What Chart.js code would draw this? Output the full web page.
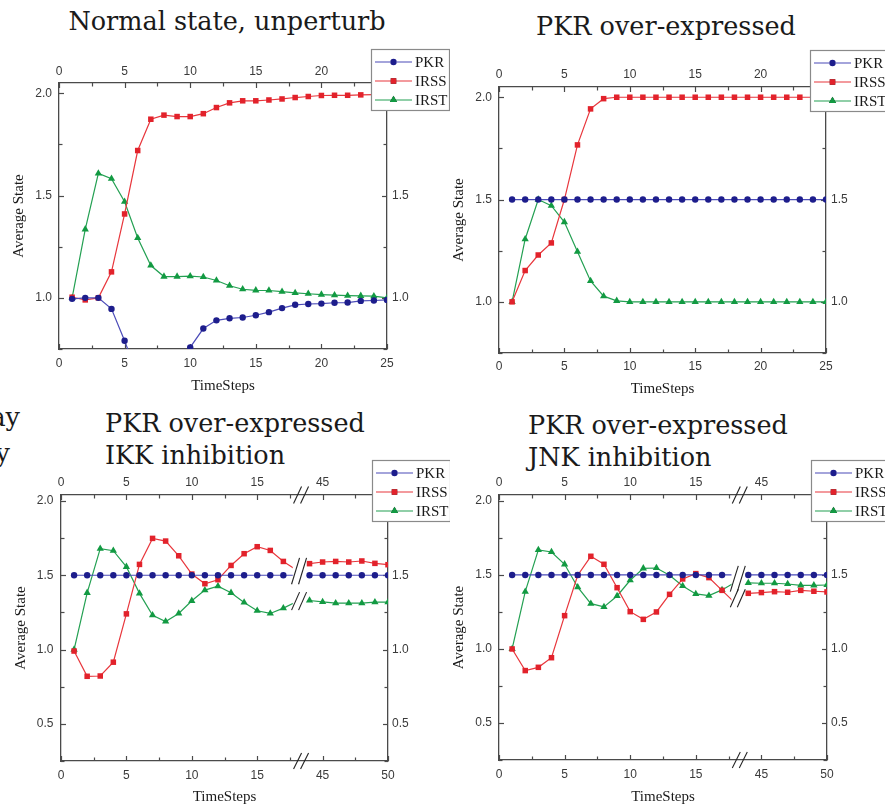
<!DOCTYPE html>
<html>
<head>
<meta charset="utf-8">
<script src="https://cdn.jsdelivr.net/npm/chart.js@4/dist/chart.umd.min.js"></script>
<style>
html,body{margin:0;padding:0;background:#fff;}
body{width:885px;height:810px;position:relative;overflow:hidden;}
canvas{position:absolute;}
.t{position:absolute;font-family:"DejaVu Serif",serif;font-size:25.5px;line-height:1;color:#1a1a1a;white-space:nowrap;}
</style>
</head>
<body>
<div class="t" style="left:-100px;width:120px;text-align:right;top:405px;">ay</div>
<div class="t" style="left:-100px;width:110px;text-align:right;top:441px;">y</div>

<div class="t" style="left:227px;top:9px;transform:translateX(-50%);">Normal state, unperturb</div>
<div class="t" style="left:666px;top:14px;transform:translateX(-50%);">PKR over-expressed</div>
<div class="t" style="left:105px;top:411px;">PKR over-expressed</div>
<div class="t" style="left:105px;top:443px;">IKK inhibition</div>
<div class="t" style="left:528px;top:413px;">PKR over-expressed</div>
<div class="t" style="left:528px;top:445px;">JNK inhibition</div>

<canvas id="c1" width="450" height="400" style="left:0;top:0;"></canvas>
<canvas id="c2" width="445" height="400" style="left:440px;top:0;"></canvas>
<canvas id="c3" width="450" height="410" style="left:0;top:400px;"></canvas>
<canvas id="c4" width="445" height="410" style="left:440px;top:400px;"></canvas>

<script>
// ---------------- DATA ----------------
const seriesNames = ['PKR', 'IRSS', 'IRST'];

const stepsShort = [1,2,3,4,5,6,7,8,9,10,11,12,13,14,15,16,17,18,19,20,21,22,23,24,25];
const stepsBroken = [1,2,3,4,5,6,7,8,9,10,11,12,13,14,15,16,17,18,44,45,46,47,48,49,50];

const xTicksShort = [0,5,10,15,20,25];
const xTicksBroken = [0,5,10,15,45,50];

// Normal state, unperturb
const normalPKR  = [0.995,1.0,1.0,0.946,0.79,0.62,0.5,0.5,0.6,0.758,0.85,0.89,0.90,0.904,0.915,0.93,0.95,0.966,0.97,0.972,0.976,0.977,0.985,0.987,0.99];
const normalIRSS = [1.003,0.99,1.0,1.127,1.41,1.72,1.873,1.893,1.886,1.886,1.90,1.93,1.953,1.963,1.963,1.967,1.972,1.979,1.984,1.989,1.99,1.99,1.992,1.993,1.994];
const normalIRST = [1.0,1.335,1.608,1.582,1.47,1.293,1.158,1.104,1.104,1.106,1.102,1.085,1.059,1.042,1.037,1.036,1.03,1.024,1.02,1.016,1.013,1.011,1.01,1.008,1.0];

// PKR over-expressed
const overPKR  = [1.5,1.5,1.5,1.5,1.5,1.5,1.5,1.5,1.5,1.5,1.5,1.5,1.5,1.5,1.5,1.5,1.5,1.5,1.5,1.5,1.5,1.5,1.5,1.5,1.5];
const overIRSS = [1.0,1.153,1.229,1.288,1.5,1.767,1.943,1.993,2.0,2.0,2.0,2.0,2.0,2.0,2.0,2.0,2.0,2.0,2.0,2.0,2.0,2.0,2.0,2.0,2.0];
const overIRST = [1.0,1.306,1.5,1.47,1.39,1.245,1.102,1.028,1.005,1.0,1.0,1.0,1.0,1.0,1.0,1.0,1.0,1.0,1.0,1.0,1.0,1.0,1.0,1.0,1.0];

// PKR over-expressed, IKK inhibition
const ikkPKR  = [1.5,1.5,1.5,1.5,1.5,1.5,1.5,1.5,1.5,1.5,1.5,1.5,1.5,1.5,1.5,1.5,1.5,1.5,1.5,1.5,1.5,1.5,1.5,1.5,1.5];
const ikkIRSS = [0.99,0.82,0.822,0.915,1.24,1.573,1.748,1.73,1.631,1.508,1.443,1.47,1.566,1.645,1.692,1.667,1.593,1.535,1.578,1.589,1.593,1.589,1.596,1.58,1.571];
const ikkIRST = [1.0,1.382,1.679,1.665,1.557,1.378,1.231,1.189,1.243,1.328,1.40,1.427,1.382,1.317,1.261,1.243,1.279,1.322,1.33,1.321,1.312,1.312,1.312,1.319,1.319];

// PKR over-expressed, JNK inhibition
const jnkPKR  = [1.5,1.5,1.5,1.5,1.5,1.5,1.5,1.5,1.5,1.5,1.5,1.5,1.5,1.5,1.5,1.5,1.5,1.5,1.5,1.5,1.5,1.5,1.5,1.5,1.5];
const jnkIRSS = [1.0,0.854,0.876,0.941,1.225,1.498,1.626,1.572,1.414,1.252,1.20,1.25,1.369,1.473,1.509,1.482,1.396,1.31,1.376,1.381,1.387,1.383,1.396,1.39,1.385];
const jnkIRST = [1.0,1.387,1.669,1.655,1.572,1.417,1.306,1.284,1.358,1.464,1.545,1.547,1.498,1.426,1.372,1.36,1.399,1.45,1.446,1.444,1.444,1.439,1.43,1.43,1.432];

// broken x axis: steps after BREAK_AFTER are shifted left by BREAK_SHIFT
const BREAK_AFTER = 18;
const BREAK_SHIFT = 25;

// ---------------- STYLE ----------------
const styles = [
  {line:'#4b4bb8', point:'#1d1d8c', shape:'circle',   r:3.2},
  {line:'#e8363c', point:'#e2222b', shape:'rect',     r:3.9},
  {line:'#23a052', point:'#129a42', shape:'triangle', r:4.2}
];
const AXIS = '#4a4a4a';

function toPoints(steps, vals, broken) {
  const pts = [];
  steps.forEach((t, i) => {
    if (broken && i > 0 && steps[i-1] <= BREAK_AFTER && t > BREAK_AFTER) {
      pts.push({x: BREAK_AFTER + 0.5, y: null});
    }
    pts.push({x: (broken && t > BREAK_AFTER) ? t - BREAK_SHIFT : t, y: vals[i]});
  });
  return pts;
}

// inward tick marks drawn via the library scales
const insideTicks = {
  id: 'insideTicks',
  beforeDatasetsDraw(chart) {
    const ctx = chart.ctx;
    const a = chart.chartArea;
    ctx.save();
    ctx.strokeStyle = AXIS;
    ctx.lineWidth = 1.2;
    ['x','x2','y','y2'].forEach(id => {
      const s = chart.scales[id];
      const minor = (id[0] === 'x') ? 2.5 : 0.25;
      const k0 = Math.ceil(s.min / minor - 1e-9), k1 = Math.floor(s.max / minor + 1e-9);
      for (let k = k0; k <= k1; k++) {
        const v = k * minor;
        const len = (k % 2 === 0) ? 5 : 3.5;
        const p = Math.round(s.getPixelForValue(v)) + 0.5;
        ctx.beginPath();
        if (id === 'x')  { ctx.moveTo(p, a.bottom); ctx.lineTo(p, a.bottom - len); }
        if (id === 'x2') { ctx.moveTo(p, a.top);    ctx.lineTo(p, a.top + len); }
        if (id === 'y')  { ctx.moveTo(a.left, p);   ctx.lineTo(a.left + len, p); }
        if (id === 'y2') { ctx.moveTo(a.right, p);  ctx.lineTo(a.right - len, p); }
        ctx.stroke();
      }
    });
    ctx.restore();
  }
};

// axis break "//" for the broken panels
const axisBreak = {
  id: 'axisBreak',
  afterDatasetsDraw(chart, args, opts) {
    if (!opts || !opts.on) return;
    const ctx = chart.ctx, a = chart.chartArea, xs = chart.scales.x, ys = chart.scales.y;
    const g0 = xs.getPixelForValue(opts.gapFrom), g1 = xs.getPixelForValue(opts.gapTo);
    ctx.save();
    ctx.fillStyle = '#fff';
    ctx.fillRect(g0, a.top + 1, g1 - g0, a.bottom - a.top - 2);
    const cx = xs.getPixelForValue(opts.markAt);
    ctx.strokeStyle = '#222';
    ctx.lineWidth = 1.1;
    const mark = (x, y, h) => {
      [-3.5, 3.5].forEach(dx => {
        ctx.beginPath();
        ctx.moveTo(x + dx - 4, y + h / 2);
        ctx.lineTo(x + dx + 4, y - h / 2);
        ctx.stroke();
      });
    };
    mark(cx + 2, a.top, 17);
    mark(cx + 2, a.bottom, 16);
    // marks on the data lines
    const ys0 = [];
    chart.data.datasets.forEach(ds => {
      const d = ds.data;
      const iNull = d.findIndex(p => p.y === null);
      if (iNull > 0) ys0.push(ys.getPixelForValue((d[iNull-1].y + d[iNull+1].y) / 2));
    });
    ys0.sort((p, q) => p - q);
    const groups = [];
    ys0.forEach(y => {
      const g = groups[groups.length - 1];
      if (g && y - g[g.length - 1] < 12) g.push(y); else groups.push([y]);
    });
    groups.forEach(g => {
      const y = g.reduce((s, v) => s + v, 0) / g.length;
      mark(cx, y, 18 + (g[g.length-1] - g[0]));
    });
    ctx.restore();
  }
};

// legend box overlapping the top-right corner
const boxLegend = {
  id: 'boxLegend',
  afterDraw(chart, args, opts) {
    const ctx = chart.ctx;
    const x = opts.x, y = opts.y, w = 78, h = 61;
    ctx.save();
    ctx.fillStyle = '#fff';
    ctx.fillRect(x, y, w, h);
    ctx.strokeStyle = '#8a8a8a';
    ctx.lineWidth = 1.2;
    ctx.strokeRect(x + 0.5, y + 0.5, w, h);
    ctx.font = '15px "Liberation Serif", serif';
    ctx.textBaseline = 'middle';
    chart.data.datasets.forEach((ds, i) => {
      const ry = y + 13 + i * 19;
      ctx.strokeStyle = ds.borderColor;
      ctx.lineWidth = 1.2;
      ctx.beginPath(); ctx.moveTo(x + 4, ry); ctx.lineTo(x + 41, ry); ctx.stroke();
      Chart.helpers.drawPoint(ctx, {pointStyle: ds.pointStyle, radius: ds.pointRadius, borderWidth: 0, rotation: 0}, x + 22.5, ry);
      ctx.fillStyle = ds.pointBackgroundColor;
      ctx.fill();
      ctx.fillStyle = '#1a1a1a';
      ctx.fillText(ds.label, x + 44, ry + 1);
    });
    ctx.restore();
  }
};

function makePanel(canvasId, steps, series, broken, yMin, yMax, area, pads, legendPos) {
  const tickFont = {family: '"Liberation Sans", Arial, sans-serif', size: 12};
  const titleFont = {family: '"Liberation Serif", serif', size: 15};
  const xLabel = v => {
    const shown = broken ? xTicksBroken : xTicksShort;
    const real = (broken && v > BREAK_AFTER) ? v + BREAK_SHIFT : v;
    return shown.includes(real) ? String(real) : '';
  };
  const xBase = (pos, fitH, padTick) => ({
    type: 'linear', position: pos, min: 0, max: 25,
    grid: {display: false, drawTicks: false},
    border: {display: true, color: AXIS, width: 1.3},
    ticks: {stepSize: 5, color: '#3a3a3a', font: tickFont, padding: padTick, callback: xLabel, maxRotation: 0, autoSkip: false},
    afterFit: s => { s.height = fitH; }
  });
  const yBase = (pos, fitW, padTick) => ({
    type: 'linear', position: pos, min: yMin, max: yMax,
    grid: {display: false, drawTicks: false},
    border: {display: true, color: AXIS, width: 1.3},
    ticks: {stepSize: 0.5, includeBounds: false, color: '#3a3a3a', font: tickFont, padding: padTick, callback: v => v.toFixed(1)},
    afterFit: s => { s.width = fitW; }
  });
  const x = xBase('bottom', area.bottom, pads.xb);
  x.title = {display: true, text: 'TimeSteps', font: titleFont, color: '#1a1a1a', padding: {top: 0, bottom: pads.xt}};
  const x2 = xBase('top', area.top, pads.xtop);
  const y = yBase('left', area.left, pads.yl);
  y.title = {display: true, text: 'Average State', font: titleFont, color: '#1a1a1a', padding: {top: pads.yt, bottom: 0}};
  const y2 = yBase('right', area.right, pads.yr);

  const datasets = series.map((vals, i) => ({
    label: seriesNames[i],
    data: toPoints(steps, vals, broken),
    borderColor: styles[i].line,
    backgroundColor: styles[i].point,
    pointBackgroundColor: styles[i].point,
    pointBorderColor: styles[i].point,
    pointBorderWidth: 0,
    pointStyle: styles[i].shape,
    pointRadius: styles[i].r,
    borderWidth: 1.2,
    tension: 0,
    spanGaps: false
  }));

  new Chart(document.getElementById(canvasId), {
    type: 'line',
    data: {datasets},
    options: {
      responsive: false,
      animation: false,
      events: [],
      layout: {padding: 0},
      scales: {x, x2, y, y2},
      plugins: {
        legend: {display: false},
        tooltip: {enabled: false},
        title: {display: false},
        boxLegend: legendPos,
        axisBreak: broken ? {on: true, gapFrom: 17.72, gapTo: 18.66, markAt: 18.2} : {on: false}
      }
    },
    plugins: [insideTicks, axisBreak, boxLegend]
  });
}

makePanel('c1', stepsShort, [normalPKR, normalIRSS, normalIRST], false, 0.75, 2.05,
  {left: 59, right: 63, top: 83, bottom: 51}, {xb: 7, xtop: 4, yl: 7, yr: 5, xt: 5, yt: 10}, {x: 371, y: 49});
makePanel('c2', stepsShort, [overPKR, overIRSS, overIRST], false, 0.75, 2.05,
  {left: 59, right: 59, top: 87, bottom: 47}, {xb: 6.5, xtop: 5, yl: 7, yr: 5, xt: 2, yt: 10}, {x: 370, y: 50});
makePanel('c3', stepsBroken, [ikkPKR, ikkIRSS, ikkIRST], true, 0.25, 2.04,
  {left: 61, right: 62, top: 95, bottom: 49}, {xb: 7, xtop: 5.5, yl: 7.5, yr: 4, xt: 4, yt: 12}, {x: 372, y: 60});
makePanel('c4', stepsBroken, [jnkPKR, jnkIRSS, jnkIRST], true, 0.25, 2.04,
  {left: 59, right: 58, top: 95, bottom: 50}, {xb: 7, xtop: 5.5, yl: 7, yr: 4, xt: 4, yt: 10}, {x: 371, y: 60});
</script>
</body>
</html>
